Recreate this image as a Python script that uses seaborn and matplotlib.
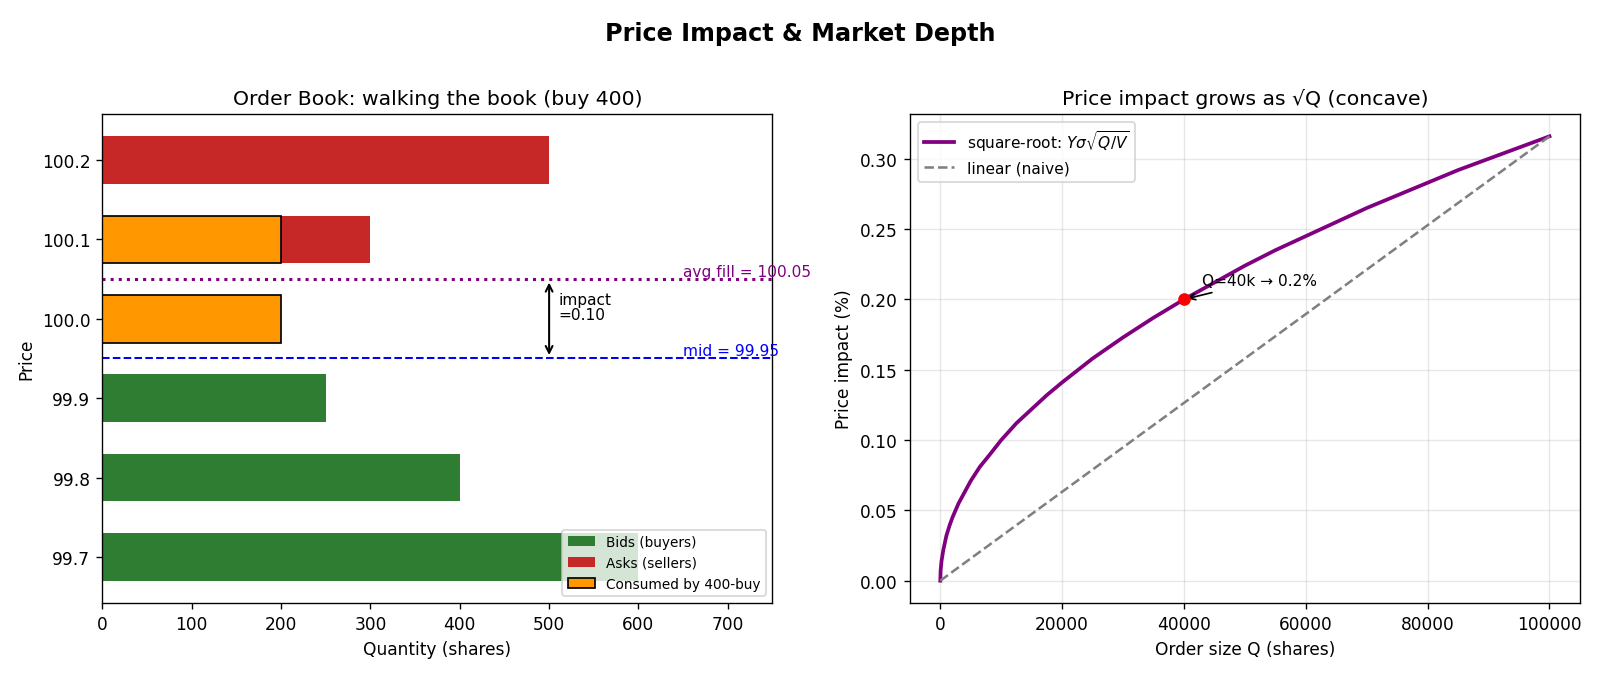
#Impacto de precio y profundidad de mercado

import seaborn as sns
import matplotlib.pyplot as plt

# libro de ordenes
bid_prices = [99.7, 99.8, 99.9]
bid_qty = [600, 400, 250]
ask_prices = [100.0, 100.1, 100.2]
ask_qty = [200, 300, 500]
used_prices = [100.0, 100.1]
used_qty = [200, 200]
mid_price = 99.95
avg_fill = 100.05

# curva de impacto
q_sizes = [0, 50, 200, 500, 1000, 1500, 2000, 3000, 4000, 5000, 6500, 8000, 10000,
           12500, 15000, 17500, 20000, 25000, 30000, 35000, 40000, 45000, 50000,
           55000, 60000, 65000, 70000, 75000, 80000, 85000, 90000, 95000, 100000]
impact_sqrt = [0, 0.007, 0.014, 0.022, 0.032, 0.039, 0.045, 0.055, 0.063, 0.071, 0.081, 0.089, 0.100,
               0.112, 0.122, 0.132, 0.141, 0.158, 0.173, 0.187, 0.200, 0.212, 0.224,
               0.235, 0.245, 0.255, 0.265, 0.274, 0.283, 0.292, 0.300, 0.308, 0.316]
lin_q = [0, 100000]
lin_impact = [0, 0.316]
point_q = [40000]
point_impact = [0.2]

fig, (ax1, ax2) = plt.subplots(1, 2, figsize=(13.05, 5.522), dpi=122.6)
plt.subplots_adjust(left=0.064, right=0.9875, top=0.83, bottom=0.108, wspace=0.205)
fig.suptitle("Price Impact & Market Depth", fontsize=14, fontweight="bold", y=0.967)

#grafico del libro
sns.barplot(x=bid_qty, y=bid_prices, orient="y", native_scale=True, width=0.6,
            color="#2e7d32", saturation=1, errorbar=None, label="Bids (buyers)", ax=ax1)
sns.barplot(x=ask_qty, y=ask_prices, orient="y", native_scale=True, width=0.6,
            color="#c62828", saturation=1, errorbar=None, label="Asks (sellers)", ax=ax1)
sns.barplot(x=used_qty, y=used_prices, orient="y", native_scale=True, width=0.6,
            color="#ff9800", saturation=1, errorbar=None, edgecolor="black", linewidth=1,
            label="Consumed by 400-buy", ax=ax1)
ax1.axhline(mid_price, color="blue", ls="--", lw=1.2)
ax1.axhline(avg_fill, color="purple", ls=":", lw=1.8)
ax1.text(650, mid_price, f"mid = {mid_price}", color="blue", fontsize=9, va="bottom")
ax1.text(650, avg_fill, f"avg fill = {avg_fill}", color="purple", fontsize=9, va="bottom")
ax1.annotate("", xy=(500, avg_fill), xytext=(500, mid_price),
             arrowprops=dict(arrowstyle="<->", color="black", lw=1.2))
ax1.text(510, 100.015, "impact\n=0.10", fontsize=9, va="center", linespacing=1.0)
ax1.set_xlim(0, 750)
ax1.set_yticks(bid_prices + ask_prices)
ax1.set_yticklabels([f"{p:.1f}" for p in bid_prices + ask_prices])
ax1.set_xlabel("Quantity (shares)")
ax1.set_ylabel("Price")
ax1.set_title("Order Book: walking the book (buy 400)", fontsize=12)
ax1.legend(loc="lower right", fontsize=8)

#grafico de impacto
sns.lineplot(x=q_sizes, y=impact_sqrt, color="purple", lw=2.2,
             label=r"square-root: $Y\sigma\sqrt{Q/V}$", ax=ax2)
sns.lineplot(x=lin_q, y=lin_impact, color="gray", ls="--", lw=1.5,
             label="linear (naive)", ax=ax2)
sns.scatterplot(x=point_q, y=point_impact, color="red", s=55, linewidth=0, zorder=5, ax=ax2)
ax2.annotate("Q=40k → 0.2%", xy=(40000, 0.2), xytext=(43000, 0.21), fontsize=9,
             arrowprops=dict(arrowstyle="->", color="black", lw=1))
ax2.grid(True, alpha=0.3)
ax2.set_xlabel("Order size Q (shares)")
ax2.set_ylabel("Price impact (%)")
ax2.set_title("Price impact grows as √Q (concave)", fontsize=12)
ax2.legend(loc="upper left", fontsize=9)

plt.savefig("out.png")
